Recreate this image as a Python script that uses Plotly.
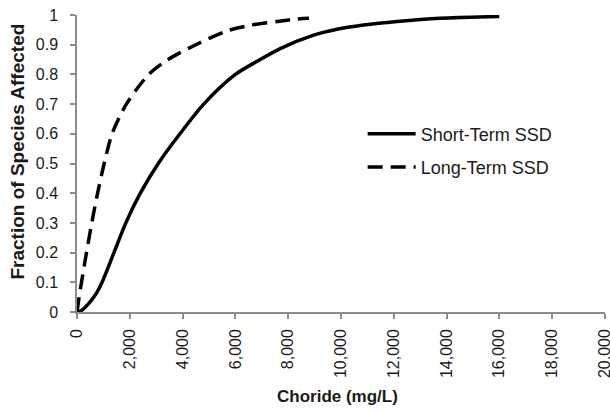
import plotly.graph_objects as go

# Data
short_x = [0, 150, 300, 550, 750, 950, 1400, 1850, 2400, 3080, 3900, 4800, 6000, 6880, 7700, 8965, 9850, 10860, 12120, 13760, 16000]
short_y = [0, 0.004, 0.015, 0.04, 0.065, 0.10, 0.20, 0.30, 0.40, 0.50, 0.60, 0.70, 0.80, 0.847, 0.887, 0.932, 0.952, 0.966, 0.978, 0.989, 0.995]

long_x = [0, 80, 170, 360, 560, 780, 1030, 1330, 1870, 2720, 3450, 4500, 5700, 6600, 7600, 8140, 8790]
long_y = [0, 0.05, 0.10, 0.20, 0.30, 0.40, 0.50, 0.60, 0.70, 0.80, 0.85, 0.90, 0.947, 0.966, 0.978, 0.985, 0.989]

short_name = "Short-Term SSD"
long_name = "Long-Term SSD"
x_title = "Choride (mg/L)"
y_title = "Fraction of Species Affected"
x_ticks = list(range(0, 20001, 2000))
y_ticks = [round(i * 0.1, 1) for i in range(11)]

FONT = "Liberation Sans, Arial, sans-serif"
AXIS = "#8c8c8c"
TXT = "#1a1a1a"

fig = go.Figure()
fig.add_trace(go.Scatter(x=short_x, y=short_y, mode="lines", name=short_name, legendgroup="a",
                         line=dict(color="black", width=3.5, shape="spline", smoothing=0.8)))
fig.add_trace(go.Scatter(x=long_x, y=long_y, mode="lines", name=long_name, legendgroup="b",
                         line=dict(color="black", width=3.5, dash="15px,8px", shape="spline", smoothing=0.8)))

fig.update_layout(
    width=610, height=411,
    margin=dict(l=77, r=5, t=15, b=99),
    paper_bgcolor="white", plot_bgcolor="white",
    font=dict(family=FONT, size=16, color=TXT),
    showlegend=True,
    legend=dict(x=0.541, y=0.544, xanchor="left", yanchor="middle",
                bgcolor="rgba(0,0,0,0)", font=dict(size=18, color=TXT),
                itemwidth=48, tracegroupgap=7),
    xaxis=dict(range=[0, 20005], tickvals=x_ticks, tickformat=",d", tickangle=-90,
               showgrid=False, zeroline=False, showline=True, linecolor=AXIS, linewidth=1.5,
               ticks="outside", ticklen=5, tickcolor=AXIS, tickwidth=1.5,
               tickfont=dict(size=16), automargin=False, ticklabelstandoff=4,
               ticklabeloverflow="allow"),
    yaxis=dict(range=[0, 1], tickvals=y_ticks, showgrid=False, zeroline=False,
               showline=True, linecolor=AXIS, linewidth=1.5,
               ticks="outside", ticklen=5, tickcolor=AXIS, tickwidth=1.5,
               tickfont=dict(size=16), automargin=False, ticklabelstandoff=9),
    annotations=[
        dict(text="<b>" + x_title + "</b>", xref="paper", yref="paper", x=0.494, y=-0.286,
             xanchor="center", yanchor="middle", showarrow=False, font=dict(size=17, color=TXT)),
        dict(text="<b>" + y_title + "</b>", xref="paper", yref="paper", x=-0.1127, y=0.542,
             xanchor="center", yanchor="middle", showarrow=False, textangle=-90,
             font=dict(size=19, color=TXT)),
    ],
)

fig.write_html("out.html", config={"displayModeBar": False},
               post_script="document.body.style.margin='0';document.body.style.overflow='hidden';")
